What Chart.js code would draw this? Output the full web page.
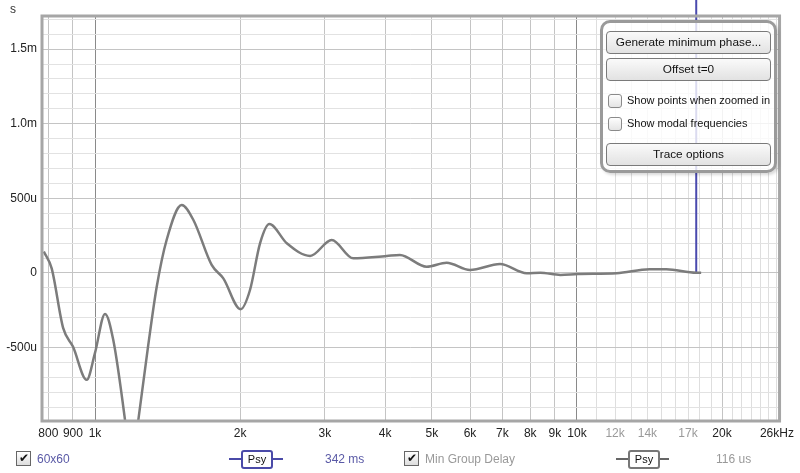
<!DOCTYPE html>
<html>
<head>
<meta charset="utf-8">
<script src="https://cdn.jsdelivr.net/npm/chart.js@4"></script>
<style>
  body { margin: 0; background: #fff; font-family: "Liberation Sans", Arial, sans-serif; }
  #wrap { position: relative; width: 800px; height: 473px; overflow: hidden; }
  #c { position: absolute; left: 0; top: 0; }
  .abs { position: absolute; font-size: 12px; white-space: nowrap; }
  #panel { position: absolute; left: 600px; top: 20px; width: 171px; height: 147px;
    border: 3px solid #9a9a9a; border-radius: 10px; background: rgba(255,255,255,0.8);
    box-shadow: 2px 2px 3px rgba(0,0,0,0.15); }
  .btn { position: absolute; left: 3px; width: 163px; height: 21px; border: 1px solid #7a7a7a;
    border-radius: 4px; background: linear-gradient(#fafafa, #e2e2e2); font-size: 11.8px;
    text-align: center; line-height: 21px; color: #111; }
  .chk { position: absolute; width: 12px; height: 12px; border: 1px solid #8a8a8a; border-radius: 3px;
    background: linear-gradient(#fdfdfd, #e4e4e4); }
  .lbl { position: absolute; font-size: 11px; color: #111; }
  .cb { position: absolute; width: 13px; height: 13px; border: 1px solid #666; background: linear-gradient(#fff,#ddd);
    font-size: 12px; line-height: 13px; text-align: center; color: #111; }
  .psy { position: absolute; height: 15px; width: 28px; border: 2px solid; border-radius: 3px; background: #fff;
    font-size: 11px; text-align: center; line-height: 15px; color: #111; }
  .pline { position: absolute; height: 2px; }
</style>
</head>
<body>
<div id="wrap">
  <canvas id="c" width="800" height="473"></canvas>
  <div class="abs" style="left:10px;top:2px;color:#333;">s</div>

  <div id="panel">
    <div class="btn" style="top:8px;">Generate minimum phase...</div>
    <div class="btn" style="top:35px;">Offset t=0</div>
    <div class="chk" style="left:5px;top:71px;"></div>
    <div class="lbl" style="left:24px;top:71px;">Show points when zoomed in</div>
    <div class="chk" style="left:5px;top:94px;"></div>
    <div class="lbl" style="left:24px;top:94px;">Show modal frequencies</div>
    <div class="btn" style="top:120px;">Trace options</div>
  </div>

  <div class="cb" style="left:16px;top:451px;">&#10004;</div>
  <div class="abs" style="left:37px;top:452px;color:#5a5aa6;">60x60</div>
  <div class="pline" style="left:229px;top:458px;width:54px;background:#4a4aa8;"></div>
  <div class="psy" style="left:241px;top:450px;border-color:#4a4aa8;">Psy</div>
  <div class="abs" style="left:325px;top:452px;color:#5a5aa6;">342 ms</div>

  <div class="cb" style="left:404px;top:451px;">&#10004;</div>
  <div class="abs" style="left:425px;top:452px;color:#999;">Min Group Delay</div>
  <div class="pline" style="left:616px;top:458px;width:53px;background:#666;"></div>
  <div class="psy" style="left:628px;top:450px;border-color:#777;">Psy</div>
  <div class="abs" style="left:716px;top:452px;color:#999;">116 us</div>
</div>
<script>
// min group delay trace (Hz, microseconds)
var freqs = [783, 813, 859, 900, 961, 1000, 1049, 1091, 1154, 1190, 1230, 1290, 1343, 1408, 1513,
  1600, 1746, 1846, 2005, 2097, 2200, 2300, 2500, 2795, 3099, 3435, 4031, 4291, 4877, 5366,
  5999, 6925, 7866, 8393, 9239, 10050, 12085, 14150, 15327, 17680, 18100];
var delay = [143, 31, -370, -493, -716, -535, -274, -448, -984, -1350, -984, -480, -92, 221, 455,
  355, 54, -36, -243, -114, 199, 328, 199, 114, 221, 98, 114, 120, 42, 69,
  20, 60, -2, 2, -13, -7, -2, 25, 25, 2, 2];

// 60x60 trace: spike at ~17.7 kHz, runs off the top
var spikeFreq = [17680, 17680];
var spikeDelay = [2000, 0];

var xGrid = [800, 900, 1000, 2000, 3000, 4000, 5000, 6000, 7000, 8000, 9000, 10000,
  11000, 12000, 13000, 14000, 15000, 16000, 17000, 18000, 19000, 20000, 21000, 22000,
  23000, 24000, 25000, 26000];
var xLabels = {800: '800', 900: '900', 1000: '1k', 2000: '2k', 3000: '3k', 4000: '4k', 5000: '5k',
  6000: '6k', 7000: '7k', 8000: '8k', 9000: '9k', 10000: '10k', 12000: '12k', 14000: '14k',
  17000: '17k', 20000: '20k', 26000: '26kHz'};
var yLabels = {'-500': '-500u', 0: '0', 500: '500u', 1000: '1.0m', 1500: '1.5m'};

function pts(xs, ys) {
  return xs.map(function (x, i) { return {x: x, y: ys[i]}; });
}

var framePlugin = {
  id: 'frame',
  afterDatasetsDraw: function (chart) {
    var a = chart.chartArea, ctx = chart.ctx;
    ctx.save();
    ctx.strokeStyle = '#a6a6a6';
    ctx.lineWidth = 3;
    ctx.strokeRect(a.left - 1, a.top - 1, a.right - a.left + 2, a.bottom - a.top + 2);
    ctx.restore();
  }
};

new Chart(document.getElementById('c'), {
  type: 'line',
  data: {
    datasets: [
      { data: pts(freqs, delay), borderColor: '#7c7c7c', borderWidth: 2.5, pointRadius: 0,
        cubicInterpolationMode: 'monotone' },
      { data: pts(spikeFreq, spikeDelay), borderColor: '#4a4aae', borderWidth: 2, pointRadius: 0,
        clip: { left: 0, top: 20, right: 0, bottom: 0 } }
    ]
  },
  options: {
    responsive: false,
    animation: false,
    events: [],
    layout: { padding: { top: 17, right: 20, bottom: 28, left: 0 } },
    plugins: { legend: { display: false }, tooltip: { enabled: false } },
    scales: {
      x: {
        type: 'logarithmic', min: 780, max: 26200,
        afterBuildTicks: function (s) { s.ticks = xGrid.map(function (v) { return {value: v}; }); },
        afterFit: function (s) { s.height = 25; },
        border: { display: false },
        grid: {
          drawTicks: false,
          color: function (c) {
            var v = c.tick && c.tick.value;
            if (v === 1000 || v === 10000) return '#8a8a8a';
            if (v > 10000 && v !== 20000) return '#dedede';
            return '#c4c4c4';
          }
        },
        ticks: {
          autoSkip: false, maxRotation: 0, padding: 6,
          font: { family: 'Liberation Sans', size: 12 },
          color: function (c) {
            var v = c.tick && c.tick.value;
            return (v === 12000 || v === 14000 || v === 17000) ? '#9a9a9a' : '#222';
          },
          callback: function (v) { return xLabels[v] || ''; }
        }
      },
      y: {
        min: -985, max: 1715,
        afterBuildTicks: function (s) {
          var t = [];
          for (var v = -900; v <= 1700; v += 100) t.push({value: v});
          s.ticks = t;
        },
        afterFit: function (s) { s.width = 43; },
        border: { display: false },
        grid: {
          drawTicks: false,
          color: function (c) {
            var v = c.tick && c.tick.value;
            return (v % 500 === 0) ? '#c4c4c4' : '#e2e2e2';
          }
        },
        ticks: {
          autoSkip: false, padding: 6, color: '#222',
          font: { family: 'Liberation Sans', size: 12 },
          callback: function (v) { return yLabels[v] || ''; }
        }
      }
    }
  },
  plugins: [framePlugin]
});
</script>
</body>
</html>
